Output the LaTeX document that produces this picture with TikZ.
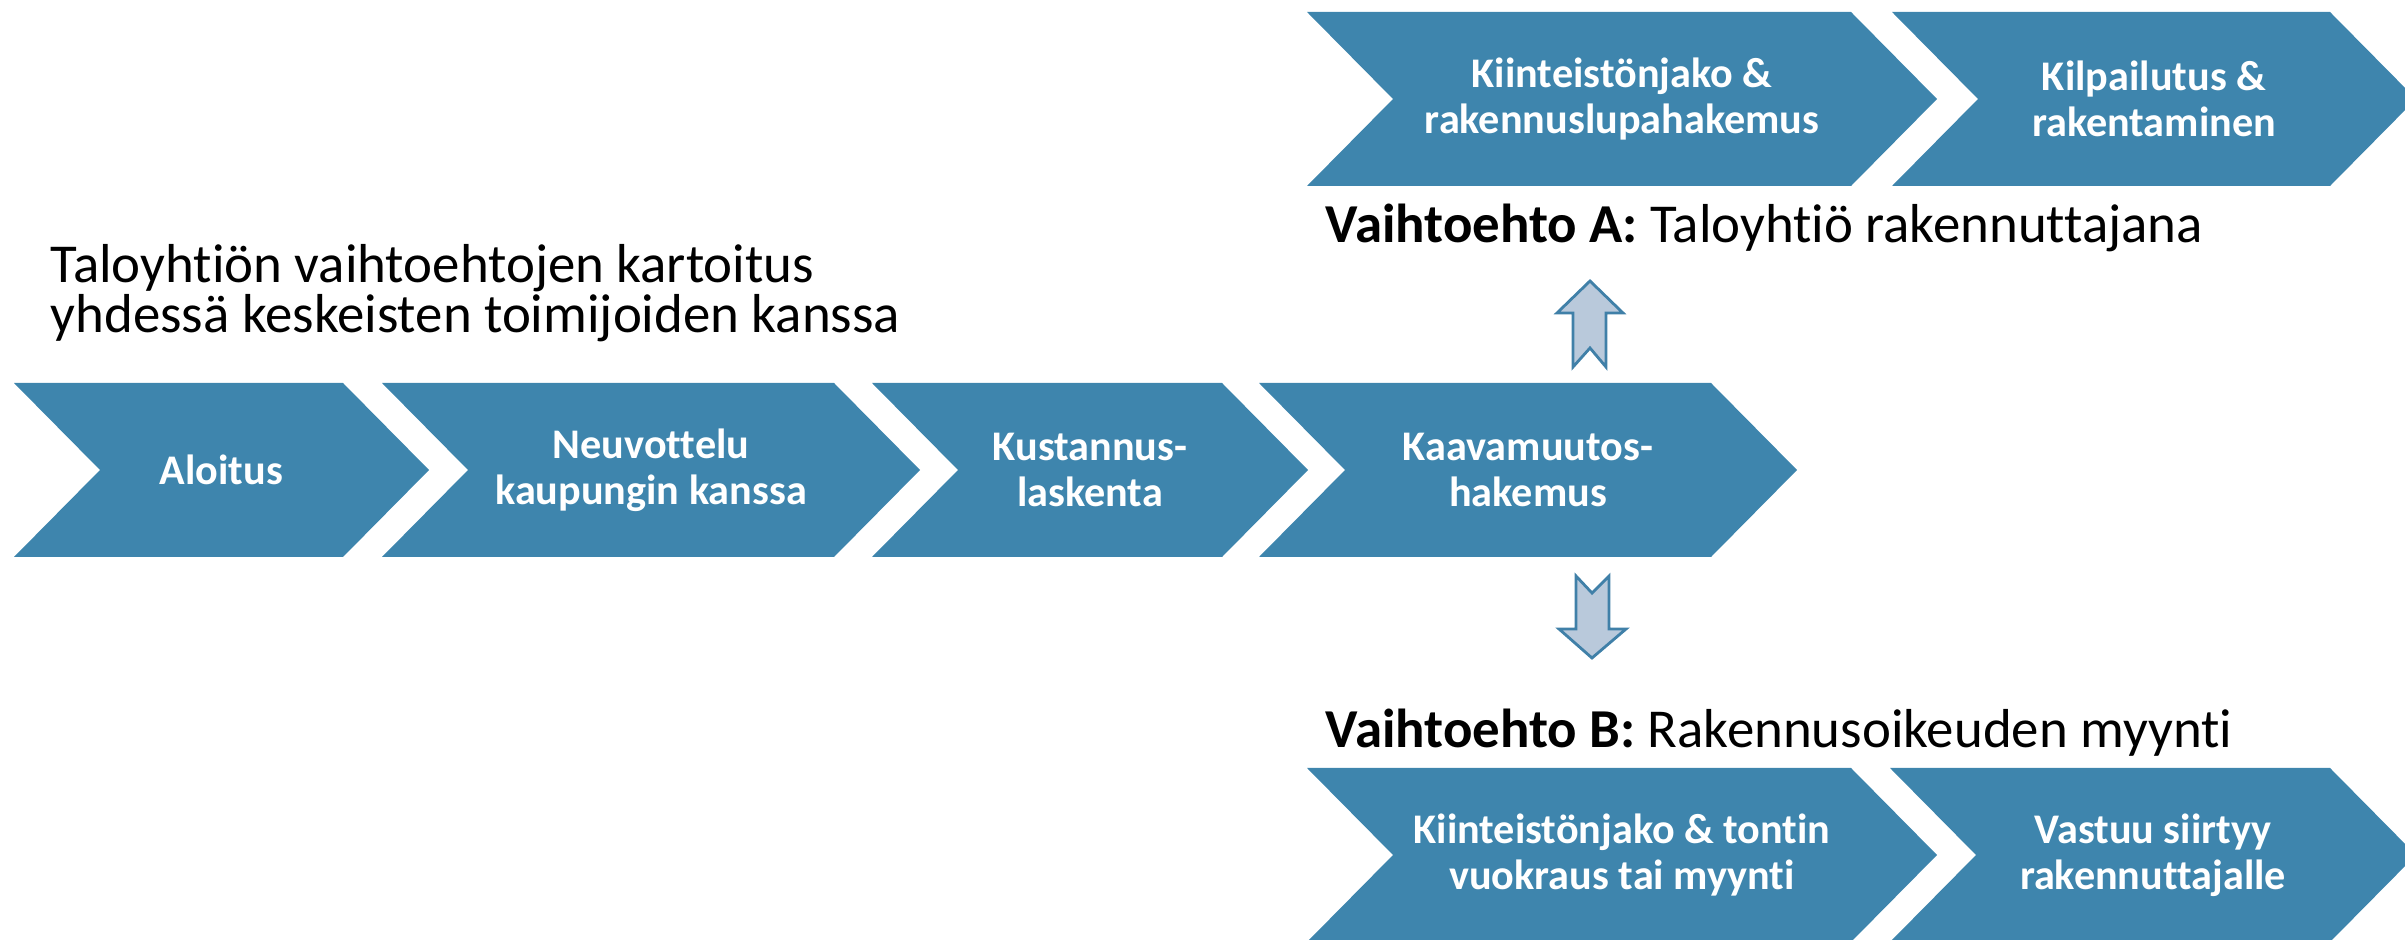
\documentclass[tikz,border=0pt]{standalone}
\usepackage{fontspec}
\setmainfont[Ligatures=NoCommon]{Carlito}
\usepackage{xcolor}
\definecolor{chevblue}{RGB}{62,133,173}
\definecolor{arrowfill}{RGB}{185,201,219}
\definecolor{arrowline}{RGB}{64,128,168}

\begin{document}
\begin{tikzpicture}[x=0.01cm,y=-0.01cm,
    every node/.style={font=\fontsize{15.6}{14.5}\selectfont},
    steptext/.style={text=white,align=center,font=\fontsize{12}{13.1}\selectfont\bfseries},
    blockarrow/.style={fill=arrowfill,draw=arrowline,line width=0.8pt,line join=miter}]
  \useasboundingbox (0,0) rectangle (2405,940);
  % chevrons: left x / right x / top y / name / text
  \foreach \xl/\xr/\ty/\nm/\txt in {
      14/343/383/aloitus/{Aloitus},
      382/834/383/neuvottelu/{Neuvottelu\\kaupungin kanssa},
      872/1222/383/kustannus/{Kustannus-\\laskenta},
      1259/1711/383/kaavamuutos/{Kaavamuutos-\\hakemus},
      1307/1851/12/jakoA/{Kiinteistönjako \&\\rakennuslupahakemus},
      1892/2330/12/kilpailutus/{Kilpailutus \&\\rakentaminen},
      1307/1851/768/jakoB/{Kiinteistönjako \& tontin\\vuokraus tai myynti},
      1890/2330/768/vastuu/{Vastuu siirtyy\\rakennuttajalle}}
  {
    \fill[chevblue] (\xl,\ty) -- (\xr,\ty) -- (\xr+86,\ty+87) -- (\xr,\ty+174)
      -- (\xl,\ty+174) -- (\xl+86,\ty+87) -- cycle;
    \node[steptext] (\nm) at ({(\xl+\xr+86)/2},\ty+87) {\txt};
  }
  \node[anchor=base west,align=left,inner sep=0] (kartoitus) at (50,333)
    {Taloyhtiön vaihtoehtojen kartoitus\\yhdessä keskeisten toimijoiden kanssa};
  \node[anchor=base west,inner sep=0] (vaihtoA) at (1325,243) {\textbf{Vaihtoehto A:} Taloyhtiö rakennuttajana};
  \node[anchor=base west,inner sep=0] (vaihtoB) at (1325,748) {\textbf{Vaihtoehto B:} Rakennusoikeuden myynti};
  % block arrows to the two options
  \draw[blockarrow] (1590,281) -- (1623,313) -- (1606,313) -- (1606,367) -- (1590,348)
    -- (1573,367) -- (1573,313) -- (1557,313) -- cycle;
  \draw[blockarrow] (1576,576) -- (1592,593) -- (1609,576) -- (1609,629) -- (1626,629)
    -- (1592,658) -- (1559,629) -- (1576,629) -- cycle;
\end{tikzpicture}
\end{document}
